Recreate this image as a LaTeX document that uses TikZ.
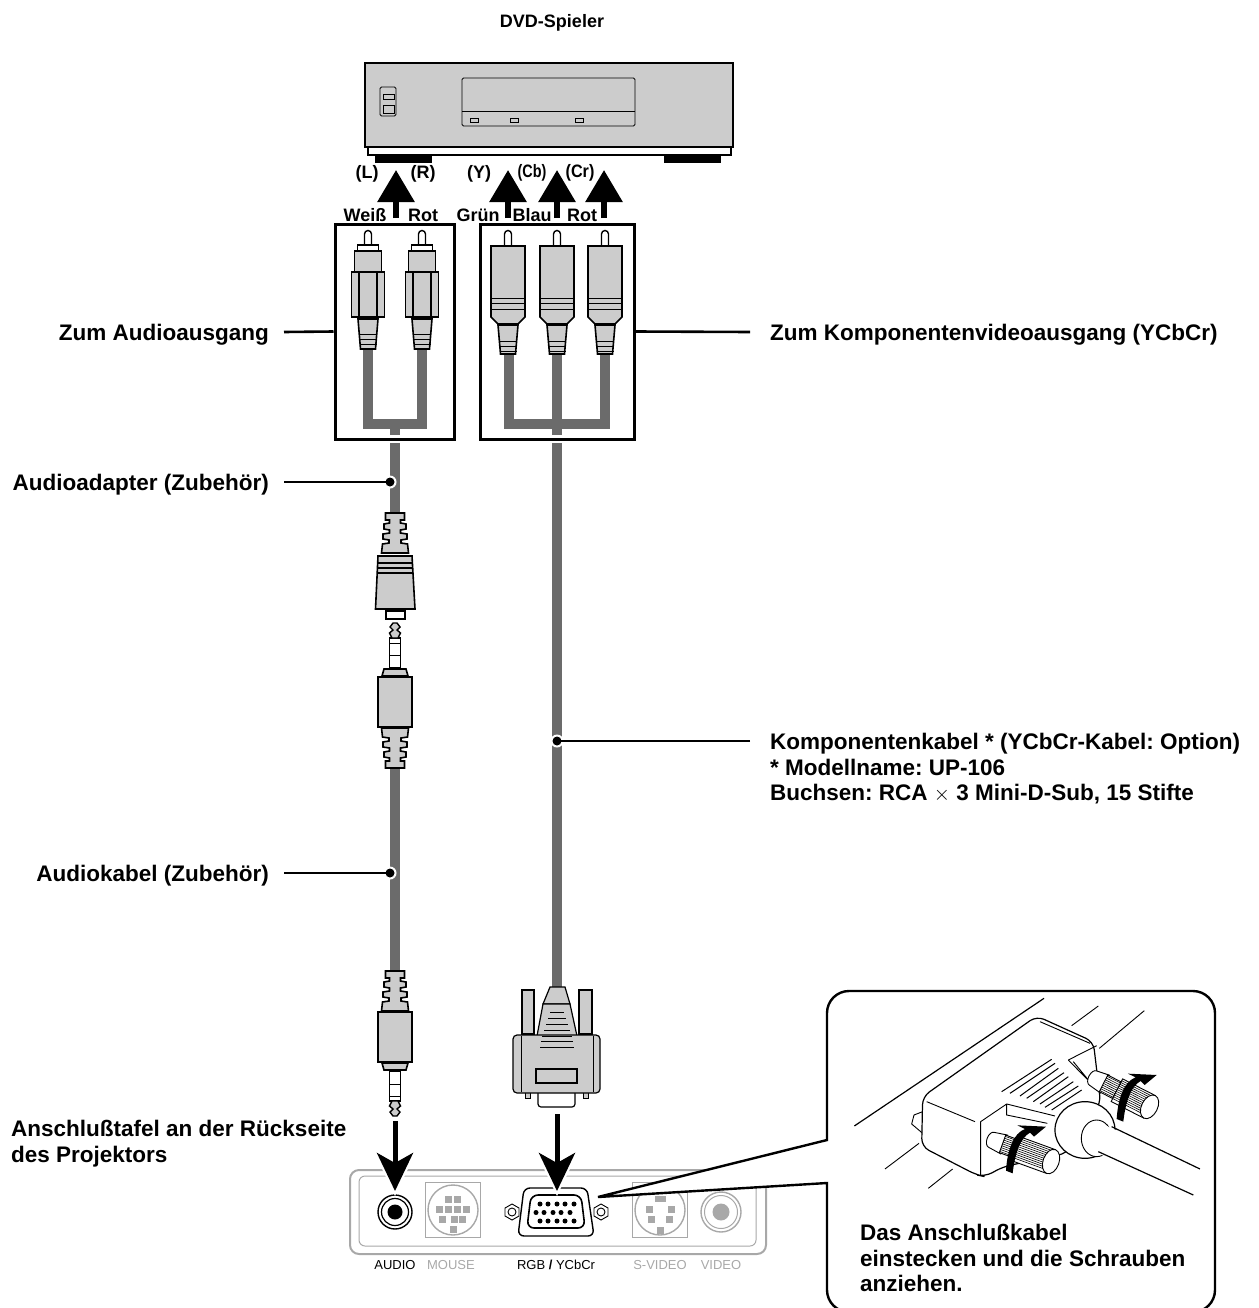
\documentclass[tikz,border=0pt]{standalone}
\usepackage{fontspec}
\setmainfont{Liberation Sans}
\usetikzlibrary{arrows.meta}
\frenchspacing

\definecolor{plug}{HTML}{CCCCCC}
\definecolor{cablegray}{HTML}{6B6B6B}
\definecolor{panelgray}{HTML}{A8A8A8}

\newcommand{\drawsleeve}{%
  \draw[outline] (9.5,0) -- (9.5,-7) -- (5.5,-7) -- (5.5,-10) -- (11,-11) -- (11,-16) -- (5.5,-17) -- (5.5,-20)
    -- (12,-21) -- (12,-26) -- (6,-27) -- (6,-30) -- (12.5,-31) -- (13.5,-40)
    -- (-13.5,-40) -- (-12.5,-31) -- (-6,-30) -- (-6,-27) -- (-12,-26) -- (-12,-21) -- (-5.5,-20) -- (-5.5,-17)
    -- (-11,-16) -- (-11,-11) -- (-5.5,-10) -- (-5.5,-7) -- (-9.5,-7) -- (-9.5,0) -- cycle;}

\tikzset{
  lbl/.style={font=\bfseries\fontsize{22.5}{25.7}\selectfont,inner sep=0pt,align=left},
  lineup/.style={text height=21pt,text depth=4pt},
  tag/.style={font=\bfseries\fontsize{18}{22}\selectfont,inner sep=0pt},
  portlbl/.style={font=\fontsize{13}{15}\selectfont,inner sep=0pt},
  outline/.style={draw=black,line width=1.6pt,fill=plug},
  fine/.style={draw=black,line width=0.9pt},
  cable/.style={draw=cablegray,line width=10.5pt},
  leader/.style={draw=black,line width=2.6pt},
  plugbox/.style={draw=black,line width=3pt,inner sep=0pt},
  uparrow/.style={draw=black,line width=6pt,-{Triangle[length=32pt,width=36pt]}},
  downarrow/.style={draw=black,line width=5pt,-{Stealth[length=38pt,width=36pt,inset=10pt]}},
  paneline/.style={draw=panelgray,line width=2pt},
  % --- ridged sleeve of a plug, narrow end at the origin ---
  pics/sleeve/.style={code={\drawsleeve}},
  % --- mini jack, tip towards negative y ---
  pics/minijack/.style={code={
    \drawsleeve
    \draw[outline] (-17,-41) rectangle (17,-91);
    \draw[outline] (-13,-92) -- (13,-92) -- (11,-99) -- (-11,-99) -- cycle;
    \draw[draw=black,line width=1.4pt,fill=white] (-5.5,-100) -- (-5.5,-130) -- (5.5,-130) -- (5.5,-100) -- cycle;
    \draw[draw=black,line width=1pt] (-5.5,-125) -- (5.5,-125) (-5.5,-113) -- (5.5,-113);
    \draw[draw=black,line width=1.4pt,fill=plug] (-3,-130) -- (-5.5,-135) -- (-2,-138) -- (-5,-141) -- (-2,-145) -- (2,-145) -- (5,-141) -- (2,-138) -- (5.5,-135) -- (3,-130) -- cycle;
  }},
  % --- RCA plug of the audio pair ---
  pics/audioplug/.style={code={
    \draw[draw=black,line width=1.4pt,fill=white] (-3.5,245) -- (-3.5,234) arc[start angle=180,end angle=360,radius=3.5] -- (3.5,245);
    \draw[draw=black,line width=1.4pt,fill=white] (-10.5,245) rectangle (10.5,251);
    \draw[outline] (-13.5,251) rectangle (13.5,272);
    \draw[outline] (-16.5,272) rectangle (16.5,317);
    \draw[draw=black,line width=1.4pt] (-9,272) -- (-9,317) (9,272) -- (9,317);
    \draw[outline] (-10,319) -- (10,319) -- (7.5,349) -- (-7.5,349) -- cycle;
    \foreach \ly in {334,339,344} \draw[draw=black,line width=1pt] (-8.5,\ly) -- (8.5,\ly);
  }},
  % --- RCA plug of the video set ---
  pics/videoplug/.style={code={
    \draw[draw=black,line width=1.4pt,fill=white] (-3.5,246) -- (-3.5,234) arc[start angle=180,end angle=360,radius=3.5] -- (3.5,246);
    \draw[outline] (-17,246) -- (17,246) -- (17,317) -- (10,324) -- (-10,324) -- (-17,317) -- cycle;
    \foreach \ly in {298,303,309} \draw[draw=black,line width=1pt] (-17,\ly) -- (17,\ly);
    \draw[outline] (-10,325) -- (10,325) -- (7.5,354) -- (-7.5,354) -- cycle;
    \foreach \ly in {341,346,351} \draw[draw=black,line width=1pt] (-8.5,\ly) -- (8.5,\ly);
  }},
  % --- thumb screw of the inset ---
  pics/thumbscrew/.style={code={
    \draw[fine,fill=white] (5,-24) -- (45,-30) -- (45,30) -- (5,24) arc[start angle=90,end angle=270,x radius=14,y radius=24];
    \draw[fine,fill=white] (40,-28) rectangle (85,28);
    \foreach \t in {-24,-18,...,24} \draw[draw=black,line width=0.6pt] (40,\t) -- (85,\t);
    \draw[fine,fill=white] (85,-38) -- (195,-38) -- (195,38) -- (85,38) -- cycle;
    \foreach \t in {-32,-26,...,32} \draw[draw=black,line width=0.6pt] (85,\t) -- (190,\t);
    \draw[fine,fill=white] (195,0) ellipse[x radius=24,y radius=38];
  }},
  % --- bent arrow of the inset, head at the origin ---
  pics/turnarrow/.style={code={
    \fill[black] (-120,132) .. controls (-116,70) and (-98,20) .. (-63,7) -- (-86,-4) -- (0,0) -- (-36,30) -- (-48,18)
      .. controls (-78,35) and (-93,80) .. (-100,140) -- cycle;
  }},
}

\begin{document}
\begin{tikzpicture}[x=1pt,y=-1pt,>=stealth]
\useasboundingbox (0,0) rectangle (1258,1308);

% --- DVD-Spieler ---
\node[tag] (dvdlabel) at (552,23) {DVD-Spieler};
\fill[black] (375,155) rectangle (432,163);
\fill[black] (664,155) rectangle (721,163);
\draw[draw=black,line width=2.2pt,fill=white] (368,147) rectangle (731,155);
\draw[draw=black,line width=2.4pt,fill=plug] (365,63) rectangle (733,147);
\draw[fine,rounded corners=1.5pt] (462,78) rectangle (635,126);
\draw[fine] (462,111) -- (635,111);
\foreach \ledx in {470,510,575} \draw[fine] (\ledx,118) rectangle ++(8,4);
\draw[fine,rounded corners=1.5pt] (380,87) rectangle (396,116);
\draw[fine] (383,94) rectangle (394,99);
\draw[fine] (383,105) rectangle (394,113);

% --- Pfeile nach oben ---
\foreach \arrowx/\arrowname in {396/audioup,508/yup,557/cbup,604/crup} {
  \coordinate (\arrowname top) at (\arrowx,170);
  \coordinate (\arrowname foot) at (\arrowx,218);
  \draw[uparrow] (\arrowname foot) -- (\arrowname top);
}

% --- Etichetten ---
\node[tag] (llabel) at (367,174) {(L)};
\node[tag] (rlabel) at (423,174) {(R)};
\node[tag] (ylabel) at (479,174) {(Y)};
\node[tag,font=\bfseries\fontsize{18}{20}\selectfont,xscale=0.8] (cblabel) at (532,173) {(Cb)};
\node[tag,xscale=0.9] (crlabel) at (580,173) {(Cr)};
\node[tag] (weisslabel) at (365,215) {Weiß};
\node[tag] (rotalabel) at (423,215) {Rot};
\node[tag] (gruenlabel) at (478,215) {Grün};
\node[tag] (blaulabel) at (532,215) {Blau};
\node[tag] (rotblabel) at (582,215) {Rot};

% --- Kabel ---
\draw[cable] (368,349) -- (368,424) -- (422,424) -- (422,349);
\draw[cable] (395,424) -- (395,435);
\draw[cable] (509,354) -- (509,424) -- (605,424) -- (605,354);
\draw[cable] (557,354) -- (557,435);
\draw[cable] (395,443) -- (395,513);
\draw[cable] (395,768) -- (395,971);
\draw[cable] (557,443) -- (557,990);

% --- Stecker in den Kasten ---
\foreach \plugx in {368,422} \pic at (\plugx,0) {audioplug};
\foreach \plugx in {508,557,605} \pic at (\plugx,0) {videoplug};
\node[plugbox,minimum width=119pt,minimum height=215pt] (audiobox) at (394.5,331.5) {};
\node[plugbox,minimum width=154pt,minimum height=215pt] (videobox) at (557,331.5) {};

% --- Adapter und Klinkenstecker ---
\pic[yscale=-1] at (395,513) {sleeve};
\draw[outline] (378,556) -- (412,556) -- (415,609) -- (375.5,609) -- cycle;
\foreach \ly in {563,568,573} \draw[draw=black,line width=1.2pt] (378,\ly) -- (412,\ly);
\draw[draw=black,line width=1.6pt,fill=white] (386,611) rectangle (405,619);
\pic at (395,768) {minijack};
\pic[yscale=-1] at (395,971) {minijack};

% --- D-Sub-Stecker ---
\draw[outline,line width=1.2pt] (522,990) rectangle (534,1034);
\draw[outline,line width=1.2pt] (579,990) rectangle (592,1034);
\draw[outline,line width=1.2pt] (550,987) -- (565,987) -- (570,1004) -- (543,1004) -- cycle;
\draw[outline,line width=1.2pt] (543,1004) -- (570,1004) -- (577,1036) -- (537,1036) -- cycle;
\draw[draw=black,line width=1.2pt,fill=white,rounded corners=3pt] (538,1090) rectangle (575,1107);
\draw[outline,line width=1pt] (525,1092) rectangle (530,1098);
\draw[outline,line width=1pt] (583,1092) rectangle (588,1098);
\draw[outline,line width=1.2pt,rounded corners=4pt] (513,1035) rectangle (600,1093);
\draw[draw=black,line width=1pt] (521,1036) -- (521,1092) (593,1036) -- (593,1092);
\draw[draw=black,line width=1.2pt] (536,1069) rectangle (577,1083);
\foreach \ly/\lw in {1012/7,1018/9,1024/11,1030/13,1036/15,1041/16,1047/17}
  \draw[draw=black,line width=1pt] ({557-\lw},\ly) -- ({557+\lw},\ly);

% --- Anschlusstafel ---
\draw[paneline,rounded corners=9pt] (350,1170) rectangle (766,1254);
\draw[paneline,line width=1pt,rounded corners=6pt] (359,1176) rectangle (756,1246);
\node[draw=black,circle,line width=1.4pt,minimum size=34pt,inner sep=0pt] (audioport) at (395,1212) {};
\node[draw=black,circle,line width=1.2pt,minimum size=27pt,inner sep=0pt] (audioring) at (395,1212) {};
\node[fill=black,circle,minimum size=15pt,inner sep=0pt] (audiohole) at (395,1212) {};
\node[draw=panelgray,line width=1pt,minimum size=55pt,inner sep=0pt] (mousebox) at (453,1210) {};
\node[draw=panelgray,circle,line width=1.4pt,minimum size=50pt,inner sep=0pt] (mouseport) at (453,1210) {};
\foreach \px/\py in {448/1199,457/1199,439/1209,448/1209,457/1209,466/1209,442/1219,454/1219,462/1219,453/1229}
  \fill[panelgray] (\px-3.5,\py-3.5) rectangle ++(7,7);
\node[draw=panelgray,line width=1pt,minimum size=55pt,inner sep=0pt] (svideobox) at (660,1210) {};
\node[draw=panelgray,circle,line width=1.4pt,minimum size=50pt,inner sep=0pt] (svideoport) at (660,1210) {};
\fill[panelgray] (654.5,1196) rectangle (665.5,1202);
\foreach \px/\py in {649/1209,671/1209,651/1219,669/1219,660/1230}
  \fill[panelgray] (\px-3.5,\py-3.5) rectangle ++(7,7);
\node[draw=panelgray,circle,line width=1.4pt,minimum size=40pt,inner sep=0pt] (videoport) at (721,1212) {};
\node[draw=panelgray,circle,line width=1pt,minimum size=33pt,inner sep=0pt] (videoring) at (721,1212) {};
\node[fill=panelgray,circle,minimum size=17pt,inner sep=0pt] (videohole) at (721,1212) {};

% --- VGA-Buchse ---
\draw[draw=black,line width=1.4pt,fill=white,rounded corners=6pt] (524,1188) -- (587,1188) -- (594,1236) -- (518,1236) -- cycle;
\draw[draw=black,line width=1.6pt,fill=white,rounded corners=7pt] (531,1195) -- (581,1195) -- (585,1228) -- (527,1228) -- cycle;
\foreach \ptx in {540,548,557,565,574} {
  \fill[black] (\ptx,1204) circle (2.5pt);
  \fill[black] (\ptx,1221) circle (2.5pt);
}
\foreach \ptx in {536,544,553,561,570} \fill[black] (\ptx,1212.5) circle (2.5pt);
\foreach \scx in {512,601} {
  \draw[fine,fill=white] (\scx,1204) -- ++(7,4) -- ++(0,8) -- ++(-7,4) -- ++(-7,-4) -- ++(0,-8) -- cycle;
  \draw[fine] (\scx,1212) circle (4pt);
}

% --- Pfeile nach unten ---
\fill[white] (375,1154) -- (415,1154) -- (395,1196) -- cycle;
\fill[white] (537,1154) -- (577,1154) -- (557,1196) -- cycle;
\coordinate (audiotail) at (395,1121);
\coordinate (audiotip) at (395,1191);
\coordinate (rgbtail) at (557,1114);
\coordinate (rgbtip) at (557,1191);
\draw[downarrow] (audiotail) -- (audiotip);
\draw[downarrow] (rgbtail) -- (rgbtip);

% --- Beschriftung der Tafel ---
\node[portlbl] (audiotext) at (395,1265) {AUDIO};
\node[portlbl,panelgray] (mousetext) at (451,1265) {MOUSE};
\node[portlbl] (rgbtext) at (556,1265) {RGB {\bfseries/} YCbCr};
\node[portlbl,panelgray] (svideotext) at (660,1265) {S-VIDEO};
\node[portlbl,panelgray] (videotext) at (721,1265) {VIDEO};

% --- Hinweislinien ---
\coordinate (adapterdot) at (390,482);
\coordinate (audiodot) at (390,873);
\coordinate (compdot) at (557,741);
\foreach \dotname in {adapterdot,audiodot,compdot} {
  \fill[white] (\dotname) circle (6.5pt);
  \fill[black] (\dotname) circle (4.5pt);
}
\node[lbl,lineup,anchor=east,inner xsep=15pt] (audioout) at (284,332) {Zum Audioausgang};
\node[lbl,lineup,anchor=east,inner xsep=15pt] (adapterlabel) at (284,482) {Audioadapter (Zubehör)};
\node[lbl,lineup,anchor=east,inner xsep=15pt] (audiolabel) at (284,873) {Audiokabel (Zubehör)};
\node[lbl,lineup,anchor=west,inner xsep=20pt] (videoout) at (750,332) {Zum Komponentenvideoausgang (YCbCr)};
\node[lbl,anchor=north west,inner xsep=20pt] (complabel) at (750,733) {Komponentenkabel * (YCbCr-Kabel: Option)\\* Modellname: UP-106\\Buchsen: RCA $\times$ 3 Mini-D-Sub, 15 Stifte};
\coordinate (compfree) at (750,741);
\node[lbl,anchor=north west] (paneltext) at (11,1120) {Anschlußtafel an der Rückseite\\des Projektors};
\draw[leader] (audioout.east) -- (audiobox.west);
\draw[leader] (videoout.west) -- (videobox.east);
\draw[leader] (adapterlabel.east) -- (adapterdot);
\draw[leader] (audiolabel.east) -- (audiodot);
\draw[leader] (compfree) -- (compdot);

% --- Lupe ---
\draw[draw=black,line width=2.4pt,fill=white] [rounded corners=22pt] (827,1140) -- (827,991) -- (1215,991) -- (1215,1312) -- (827,1312) [sharp corners] -- (827,1183) -- (598,1197) -- cycle;
\node[lbl,anchor=north west] (insettext) at (860,1224) {Das Anschlußkabel\\einstecken und die Schrauben\\anziehen.};

\begin{scope}[shift={(810,980)},x=0.3333pt,y=-0.3333pt]
  \draw[draw=black,line width=1.2pt] (133,438) -- (702,55);
  \draw[fine] (785,137) -- (865,78) (868,205) -- (1003,92) (225,567) -- (327,490) (355,625) -- (428,567);
  % --- Gehaeuse ---
  \draw[fine,fill=white] (312,405) -- (338,395) -- (338,460) -- (305,432) -- cycle;
  \draw[fine,line width=1.2pt,fill=white,rounded corners=8pt] (338,350) -- (680,108) -- (850,185) -- (872,370) -- (770,520) -- (580,560) -- (525,590) -- (500,585) -- (335,500) -- cycle;
  \draw[fine] (350,365) -- (495,425) (512,425) -- (590,372) -- (735,408) (512,425) -- (512,585) (590,372) -- (590,405) -- (712,430);
  \draw[fine] (690,125) -- (840,190) (775,240) -- (860,197) (775,240) -- (868,335) (790,245) -- (860,330);
  \foreach \ax/\ay/\bx/\by in {575/335/725/238,600/340/735/250,630/348/745/265,650/355/762/278,670/365/775/290,690/372/790/305,705/382/805/318,725/390/815/330}
    \draw[draw=black,line width=1pt] (\ax,\ay) -- (\bx,\by);
  % --- Knickschutz und Kabel ---
  \pic[rotate=-27] at (845,292) {thumbscrew};
  \draw[fine,line width=1.2pt,fill=white] (825,450) ellipse[x radius=90,y radius=85];
  \draw[fine,fill=white] (860,475) ellipse[x radius=46,y radius=55];
  \fill[white] (878,432) -- (1170,567) -- (1150,645) -- (868,522) -- cycle;
  \draw[draw=black,line width=1.2pt] (905,440) -- (1170,567) (865,515) -- (1150,645);
  % --- Schrauben und Pfeile ---
  \pic[rotate=-20] at (540,478) {thumbscrew};
  \pic at (708,440) {turnarrow};
  \pic at (1040,285) {turnarrow};
\end{scope}

\end{tikzpicture}
\end{document}
